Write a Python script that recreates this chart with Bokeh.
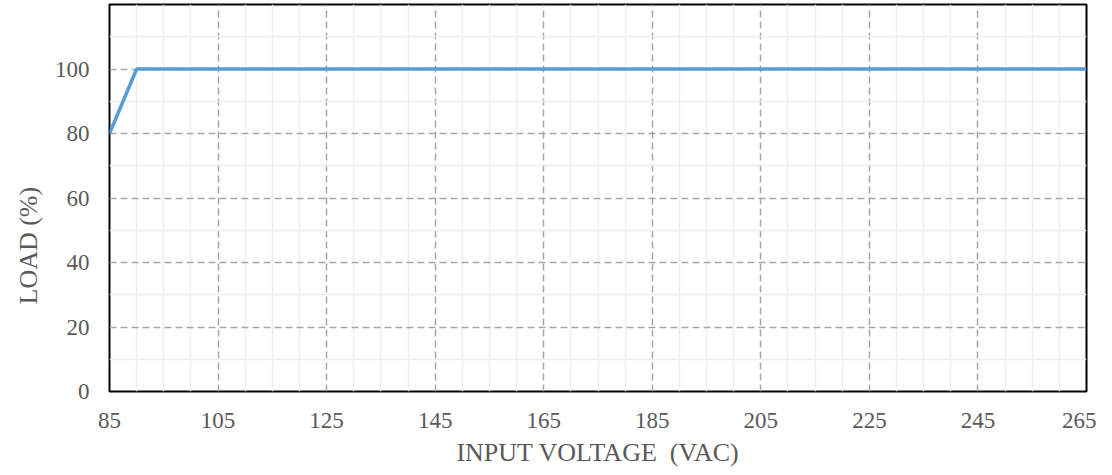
from bokeh.plotting import figure
from bokeh.models import FixedTicker, Range1d, Title
from bokeh.embed import file_html
from bokeh.resources import INLINE

# data
voltage = [85, 90, 265]
load = [80, 100, 100]

x_major = [85, 105, 125, 145, 165, 185, 205, 225, 245, 265]
y_major = [0, 20, 40, 60, 80, 100]
x_minor = [v for v in range(85, 266, 5) if v not in x_major]
y_minor = [v for v in range(0, 121, 10) if v not in y_major]
x_title = "INPUT VOLTAGE\u00a0 (VAC)"
y_title = "LOAD (%)"

p = figure(width=1096, height=475, output_backend="svg", toolbar_location=None,
           x_range=Range1d(85, 265), y_range=Range1d(0, 120),
           min_border_left=109, min_border_right=10, min_border_top=4, min_border_bottom=84)

p.xaxis.ticker = FixedTicker(ticks=x_major, minor_ticks=x_minor)
p.yaxis.ticker = FixedTicker(ticks=y_major, minor_ticks=y_minor)

for g in (p.xgrid, p.ygrid):
    g.grid_line_color = "#A6A6A6"
    g.grid_line_width = 1.5
    g.grid_line_dash = "7 4"
    g.minor_grid_line_color = "#EEEEEE"
    g.minor_grid_line_width = 1.5

p.outline_line_color = "black"
p.outline_line_width = 2
p.outline_line_alpha = 1

for ax in (p.xaxis, p.yaxis):
    ax.axis_line_color = None
    ax.major_tick_line_color = None
    ax.minor_tick_line_color = None
    ax.major_tick_in = 0
    ax.major_tick_out = 0
    ax.minor_tick_in = 0
    ax.minor_tick_out = 0
    ax.major_label_text_font = "Liberation Serif"
    ax.major_label_text_font_size = "23px"
    ax.major_label_text_color = "#595959"

p.xaxis.major_label_standoff = 21
p.yaxis.major_label_standoff = 20

xt = Title(text=x_title, align="center", standoff=10,
           text_font="Liberation Serif", text_font_size="26px",
           text_font_style="normal", text_color="#595959")
p.add_layout(xt, "below")

yt = Title(text=y_title, align="left", offset=87, standoff=18,
           text_font="Liberation Serif", text_font_size="26px",
           text_font_style="normal", text_color="#595959")
p.add_layout(yt, "left")

p.line(voltage, load, line_color="#5B9BD5", line_width=3.5)

open("out.html", "w").write(file_html(p, INLINE))
